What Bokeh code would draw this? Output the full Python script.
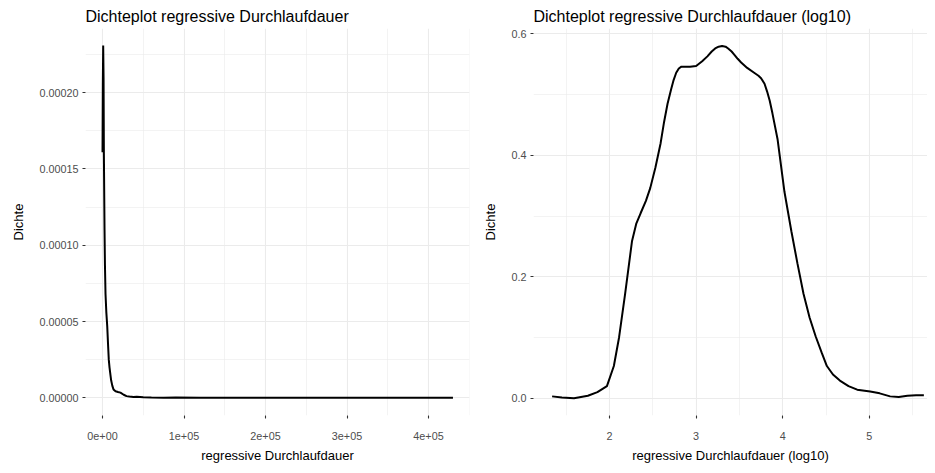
from bokeh.plotting import figure
from bokeh.layouts import row
from bokeh.models import FixedTicker, Range1d
from bokeh.embed import file_html
from bokeh.resources import INLINE

# ---------------- data ----------------
# left: density of raw duration
raw_x = [22, 400, 850, 1300, 1700, 2500, 3000, 3700, 4700, 5800, 6800, 7700,
         8600, 9500, 10600, 12000, 13500, 16000, 19000, 22000, 26000, 29500,
         33000, 38000, 42000, 50000, 60000, 75000, 90000, 120000, 200000,
         300000, 430000]
raw_dens = [1.61e-4, 2.05e-4, 2.31e-4, 2.10e-4, 1.60e-4, 1.10e-4, 8.7e-5, 6.8e-5,
            5.6e-5, 4.7e-5, 3.5e-5, 2.5e-5, 2.0e-5, 1.6e-5, 1.15e-5, 8.0e-6,
            5.5e-6, 4.3e-6, 3.8e-6, 3.4e-6, 2.0e-6, 1.1e-6, 8e-7, 6e-7, 7e-7,
            3e-7, 2e-7, 1e-7, 2e-7, 1e-7, 5e-8, 5e-8, 1e-8]
raw_xticks = [0, 100000, 200000, 300000, 400000]
raw_xlabels = ["0e+00", "1e+05", "2e+05", "3e+05", "4e+05"]
raw_xminor = [50000, 150000, 250000, 350000, 450000]
raw_yticks = [0.0, 0.00005, 0.00010, 0.00015, 0.00020]
raw_ylabels = ["0.00000", "0.00005", "0.00010", "0.00015", "0.00020"]
raw_yminor = [0.000025, 0.000075, 0.000125, 0.000175, 0.000225]

# right: density of log10 duration
log_x = [1.337, 1.45, 1.59, 1.75, 1.86, 1.97, 2.05, 2.11, 2.18, 2.26, 2.31, 2.36,
         2.42, 2.47, 2.53, 2.59, 2.63, 2.67, 2.71, 2.74, 2.77, 2.80, 2.83, 2.86,
         2.93, 3.00, 3.07, 3.13, 3.18, 3.22, 3.26, 3.30, 3.34, 3.37, 3.41, 3.44,
         3.48, 3.52, 3.59, 3.67, 3.72, 3.75, 3.79, 3.82, 3.85, 3.88, 3.94, 4.02,
         4.10, 4.17, 4.24, 4.31, 4.38, 4.45, 4.51, 4.58, 4.66, 4.76, 4.86, 5.01,
         5.12, 5.24, 5.34, 5.44, 5.54, 5.63]
log_dens = [0.003, 0.001, 0.000, 0.004, 0.010, 0.020, 0.053, 0.100, 0.172, 0.259,
            0.288, 0.305, 0.325, 0.346, 0.380, 0.420, 0.455, 0.485, 0.508, 0.524,
            0.536, 0.543, 0.546, 0.546, 0.546, 0.547, 0.555, 0.563, 0.571, 0.576,
            0.579, 0.580, 0.579, 0.576, 0.571, 0.566, 0.559, 0.553, 0.544, 0.536,
            0.531, 0.527, 0.518, 0.505, 0.490, 0.470, 0.427, 0.340, 0.275, 0.222,
            0.172, 0.133, 0.102, 0.075, 0.053, 0.039, 0.029, 0.020, 0.014, 0.011,
            0.008, 0.003, 0.002, 0.004, 0.005, 0.005]
log_xticks = [2, 3, 4, 5]
log_xlabels = ["2", "3", "4", "5"]
log_xminor = [1.5, 2.5, 3.5, 4.5, 5.5]
log_yticks = [0.0, 0.2, 0.4, 0.6]
log_ylabels = ["0.0", "0.2", "0.4", "0.6"]
log_yminor = [0.1, 0.3, 0.5]

FONT = "Liberation Sans"
GRID = "#EBEBEB"


def style(p, xt, xl, xm, yt, yl, ym):
    p.outline_line_color = None
    p.background_fill_color = "white"
    p.border_fill_color = "white"
    p.title.text_font = FONT
    p.title.text_font_size = "16px"
    p.title.text_font_style = "normal"
    p.title.text_color = "black"
    p.title.align = "left"
    p.title.standoff = 8
    p.xaxis.ticker = FixedTicker(ticks=xt, minor_ticks=xm)
    p.yaxis.ticker = FixedTicker(ticks=yt, minor_ticks=ym)
    p.xaxis.major_label_overrides = {t: l for t, l in zip(xt, xl)}
    p.yaxis.major_label_overrides = {t: l for t, l in zip(yt, yl)}
    for ax in (p.xaxis, p.yaxis):
        ax.axis_line_color = None
        ax.major_tick_line_color = "#333333"
        ax.major_tick_line_width = 1.1
        ax.major_tick_out = 3
        ax.major_tick_in = 0
        ax.minor_tick_line_color = None
        ax.major_label_text_font = FONT
        ax.major_label_text_font_size = "10.8px"
        ax.major_label_text_color = "#4D4D4D"
        ax.axis_label_text_font = FONT
        ax.axis_label_text_font_size = "13px"
        ax.axis_label_text_font_style = "normal"
        ax.axis_label_text_color = "black"
    p.xaxis.major_label_standoff = 12
    p.yaxis.major_label_standoff = 3
    p.xaxis.axis_label_standoff = 5
    p.yaxis.axis_label_standoff = 10
    for g in (p.xgrid, p.ygrid):
        g.grid_line_color = GRID
        g.grid_line_width = 1.1
        g.minor_grid_line_color = GRID
        g.minor_grid_line_width = 0.6


H = 465

p1 = figure(width=474, height=H, output_backend="svg", toolbar_location=None,
            title="Dichteplot regressive Durchlaufdauer",
            x_axis_label="regressive Durchlaufdauer", y_axis_label="Dichte",
            x_range=Range1d(-20860, 450300), y_range=Range1d(-1.16e-5, 2.421e-4),
            min_border_left=85, min_border_right=5, min_border_top=28,
            min_border_bottom=45)
style(p1, raw_xticks, raw_xlabels, raw_xminor, raw_yticks, raw_ylabels, raw_yminor)
p1.line(raw_x, raw_dens, line_color="black", line_width=2)

p2 = figure(width=453, height=H, output_backend="svg", toolbar_location=None,
            title="Dichteplot regressive Durchlaufdauer (log10)",
            x_axis_label="regressive Durchlaufdauer (log10)", y_axis_label="Dichte",
            x_range=Range1d(1.122, 5.672), y_range=Range1d(-0.0285, 0.6089),
            min_border_left=59, min_border_right=0, min_border_top=28,
            min_border_bottom=45)
style(p2, log_xticks, log_xlabels, log_xminor, log_yticks, log_ylabels, log_yminor)
p2.line(log_x, log_dens, line_color="black", line_width=2)

layout = row(p1, p2)
open("out.html", "w").write(file_html(layout, INLINE))
